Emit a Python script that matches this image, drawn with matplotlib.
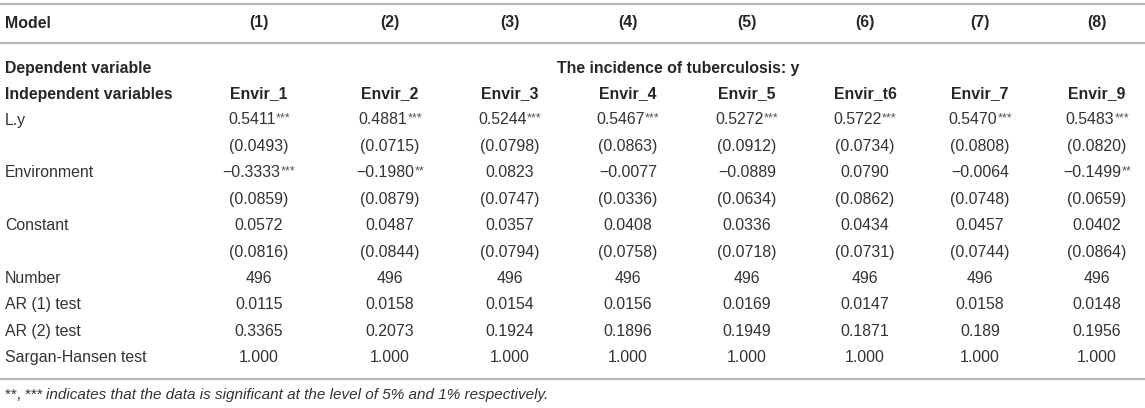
import matplotlib
matplotlib.use('Agg')
from matplotlib import pyplot as plt

plt.rcParams['font.family'] = ['Liberation Sans', 'DejaVu Sans']

models = ['(1)', '(2)', '(3)', '(4)', '(5)', '(6)', '(7)', '(8)']
indep_vars = ['Envir_1', 'Envir_2', 'Envir_3', 'Envir_4', 'Envir_5', 'Envir_t6', 'Envir_7', 'Envir_9']
dependent = 'The incidence of tuberculosis: y'

ly_coef = ['0.5411', '0.4881', '0.5244', '0.5467', '0.5272', '0.5722', '0.5470', '0.5483']
ly_stars = ['***', '***', '***', '***', '***', '***', '***', '***']
ly_se = ['0.0493', '0.0715', '0.0798', '0.0863', '0.0912', '0.0734', '0.0808', '0.0820']

env_coef = ['\u22120.3333', '\u22120.1980', '0.0823', '\u22120.0077', '\u22120.0889', '0.0790', '\u22120.0064', '\u22120.1499']
env_stars = ['***', '**', '', '', '', '', '', '**']
env_se = ['0.0859', '0.0879', '0.0747', '0.0336', '0.0634', '0.0862', '0.0748', '0.0659']

const_coef = ['0.0572', '0.0487', '0.0357', '0.0408', '0.0336', '0.0434', '0.0457', '0.0402']
const_se = ['0.0816', '0.0844', '0.0794', '0.0758', '0.0718', '0.0731', '0.0744', '0.0864']

number = ['496', '496', '496', '496', '496', '496', '496', '496']
ar1 = ['0.0115', '0.0158', '0.0154', '0.0156', '0.0169', '0.0147', '0.0158', '0.0148']
ar2 = ['0.3365', '0.2073', '0.1924', '0.1896', '0.1949', '0.1871', '0.189', '0.1956']
sargan = ['1.000', '1.000', '1.000', '1.000', '1.000', '1.000', '1.000', '1.000']

footnote = 'indicates that the data is significant at the level of 5% and 1% respectively.'

no_stars = [''] * 8
body = [
    ('L.y', ly_coef, ly_stars),
    ('', ['(' + v + ')' for v in ly_se], no_stars),
    ('Environment', env_coef, env_stars),
    ('', ['(' + v + ')' for v in env_se], no_stars),
    ('Constant', const_coef, no_stars),
    ('', ['(' + v + ')' for v in const_se], no_stars),
    ('Number', number, no_stars),
    ('AR (1) test', ar1, no_stars),
    ('AR (2) test', ar2, no_stars),
    ('Sargan-Hansen test', sargan, no_stars),
]

W, H = 1145, 408
fig = plt.figure(figsize=(W / 100, H / 100), dpi=100)
ax = fig.add_axes([0, 0, 1, 1])
ax.set_xlim(0, W)
ax.set_ylim(H, 0)
ax.axis('off')

txt = '#262626'
body_col = '#333333'
line_col = '#b8b8b8'
fs = 11.4
col_x = [259, 390, 510, 628, 747, 865, 980, 1097]
x0 = 5

# rules
for y in [4, 43, 379]:
    ax.plot([0, W], [y, y], color=line_col, lw=1.6, solid_capstyle='butt')

# header
ax.text(x0, 23, 'Model', fontsize=fs, fontweight='bold', color=txt, va='center', ha='left')
for x, m in zip(col_x, models):
    ax.text(x, 23, m, fontsize=fs, fontweight='bold', color=txt, va='center', ha='center')

ax.text(x0, 68, 'Dependent variable', fontsize=fs, fontweight='bold', color=txt, va='center')
ax.text((col_x[0] + col_x[-1]) / 2, 68, dependent, fontsize=fs, fontweight='bold',
        color=txt, va='center', ha='center')

ax.text(x0, 94, 'Independent variables', fontsize=fs, fontweight='bold', color=txt, va='center')
for x, v in zip(col_x, indep_vars):
    ax.text(x, 94, v, fontsize=fs, fontweight='bold', color=txt, va='center', ha='center')

# body cells; stars drawn small and raised after the value
starred = []
y = 120
for label, vals, stars in body:
    if label:
        ax.text(x0, y, label, fontsize=fs, color=body_col, va='center')
    for x, v, s in zip(col_x, vals, stars):
        t = ax.text(x, y, v, fontsize=fs, color=body_col, va='center', ha='center')
        if s:
            st = ax.annotate(s, xy=(1.005, 1.0), xycoords=t, fontsize=9, color='#555555',
                             ha='left', va='top')
            starred.append((t, st, x, y))
    y += 26.4

# re-centre value+stars as one unit
fig.canvas.draw()
r = fig.canvas.get_renderer()
for t, st, x, y in starred:
    w = st.get_window_extent(r).width
    t.set_position((x - w / 2, y))

ax.text(x0, 395, '**, ***', fontsize=11, color=body_col, va='center')
ax.text(x0 + 41, 395, footnote, fontsize=11, style='italic', color=body_col, va='center')

fig.savefig('out.png', dpi=100)
